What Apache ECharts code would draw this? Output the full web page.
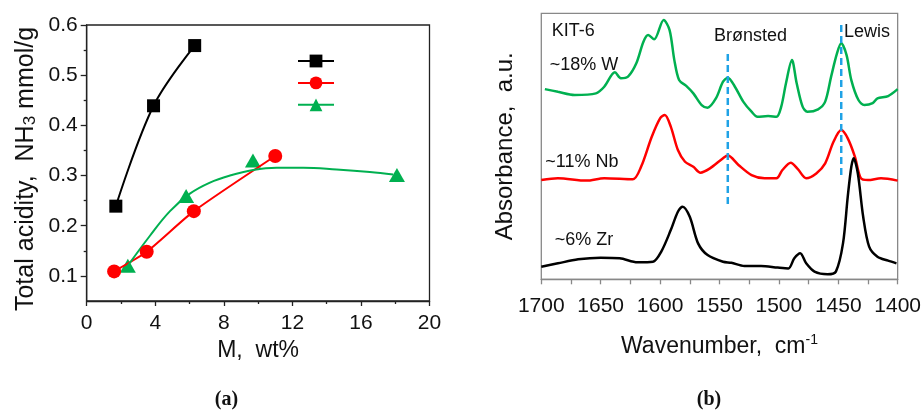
<!DOCTYPE html>
<html><head><meta charset="utf-8">
<script src="https://cdn.jsdelivr.net/npm/echarts@6/dist/echarts.min.js"></script>
<style>html,body{margin:0;padding:0;background:#fff}#c{width:924px;height:410px}</style>
</head><body><div id="c"></div>
<script>
// ---------- Panel (a): total acidity vs metal loading ----------
const aXTicks = [0, 4, 8, 12, 16, 20];
const aYTicks = [0.1, 0.2, 0.3, 0.4, 0.5, 0.6];
const aYMinorTicks = [0.15, 0.25, 0.35, 0.45, 0.55];
const zrX = [1.7, 3.9, 6.3];
const zrY = [0.239, 0.439, 0.559];
const nbX = [1.6, 3.5, 6.25, 11.0];
const nbY = [0.109, 0.148, 0.229, 0.339];
const wX = [2.4, 5.8, 9.7, 18.1];
const wY = [0.12, 0.259, 0.33, 0.301];
const wFitX = [2.33, 3.69, 4.86, 6.02, 7.19, 8.36, 9.71, 11.08, 12.63, 14.58, 16.52, 17.88];
const wFitY = [0.117, 0.18, 0.229, 0.264, 0.286, 0.300, 0.311, 0.3155, 0.3155, 0.312, 0.307, 0.302];
const legendNames = ['Zr', 'Nb', 'W'];

// ---------- Panel (b): pyridine IR spectra ----------
const wSpecX = [1697, 1686, 1672, 1654, 1647, 1638, 1633, 1627, 1620, 1614, 1610, 1605, 1597, 1592, 1588, 1584, 1578, 1572, 1565, 1560, 1553, 1547, 1543, 1537, 1530, 1523, 1518, 1509, 1502, 1498, 1494, 1489, 1485, 1480, 1476, 1467, 1461, 1456, 1451, 1447.5, 1443, 1439, 1433, 1428, 1421, 1417, 1408, 1400];
const wSpecY = [7.15, 7.05, 6.93, 6.99, 7.24, 7.78, 7.56, 7.62, 8.12, 8.93, 9.18, 9.02, 9.75, 9.37, 8.24, 7.49, 7.27, 6.99, 6.55, 6.45, 6.8, 7.43, 7.58, 7.24, 6.68, 6.3, 6.11, 6.14, 6.11, 6.49, 7.37, 8.24, 7.37, 6.49, 6.3, 6.39, 6.68, 7.62, 8.5, 8.87, 8.43, 7.49, 6.74, 6.55, 6.62, 6.8, 6.89, 7.15];
const nbSpecX = [1700, 1686, 1662, 1647, 1623, 1616, 1607, 1600, 1596, 1591, 1585, 1579, 1572, 1566, 1558, 1547, 1543, 1534, 1523, 1512, 1502, 1497, 1490, 1484, 1477, 1468.5, 1461, 1454, 1447.5, 1442, 1436, 1431, 1425, 1414, 1400];
const nbSpecY = [3.73, 3.8, 3.71, 3.8, 3.76, 4.23, 5.36, 6.05, 6.18, 5.74, 4.86, 4.42, 4.23, 4.01, 4.17, 4.55, 4.65, 4.3, 3.92, 3.8, 3.8, 4.11, 4.38, 4.14, 3.8, 3.98, 4.36, 5.17, 5.61, 5.3, 4.61, 3.8, 3.73, 3.8, 3.71];
const zrSpecX = [1700, 1686, 1669, 1650, 1634, 1619, 1606, 1599, 1591, 1585, 1581, 1575, 1568, 1560, 1547, 1540, 1529, 1515, 1501, 1492, 1487, 1482, 1477, 1470, 1459, 1452, 1446, 1442, 1439, 1437, 1433.5, 1429, 1424, 1417, 1408, 1401];
const zrSpecY = [0.47, 0.6, 0.75, 0.81, 0.79, 0.64, 0.66, 1.04, 1.85, 2.54, 2.73, 2.35, 1.35, 0.91, 0.66, 0.62, 0.5, 0.5, 0.44, 0.41, 0.79, 0.98, 0.6, 0.29, 0.19, 0.29, 1.35, 3.11, 4.23, 4.55, 3.98, 2.35, 1.23, 0.85, 0.7, 0.6];
const bronstedX = [1543, 1543];
const bronstedY = [2.83, 8.56];
const lewisX = [1447.5, 1447.5];
const lewisY = [3.92, 9.62];
const noteTexts = ['KIT-6', 'Brønsted', 'Lewis', '~18% W', '~11% Nb', '~6% Zr'];
const noteX = [1691.2, 1554.6, 1445.2, 1692.9, 1696.6, 1688.7];
const noteY = [9.35, 9.15, 9.28, 8.06, 4.39, 1.48];

const zip = (xs, ys) => xs.map((x, i) => [x, ys[i]]);
const FONT = 'Liberation Sans, Arial, sans-serif';
const GREEN = '#00b050', RED = '#ff0000', BLACK = '#000000', BLUE = '#1fa2e6';

const chart = echarts.init(document.getElementById('c'), null, { renderer: 'canvas' });
const option = {
  animation: false,
  backgroundColor: '#ffffff',
  textStyle: { fontFamily: FONT },
  grid: [
    { left: 86.7, right: 494.5, top: 25, bottom: 109, show: true, borderColor: '#222', borderWidth: 1.3, containLabel: false },
    { left: 541.3, right: 26.3, top: 13.3, bottom: 130.7, show: true, borderColor: '#888', borderWidth: 1.3, containLabel: false }
  ],
  legend: {
    orient: 'vertical', left: 292, top: 48, itemWidth: 36, itemHeight: 16, itemGap: 7.5,
    data: legendNames, formatter: () => '', selectedMode: false
  },
  xAxis: [
    {
      gridIndex: 0, type: 'value', min: 0, max: 20, interval: 4,
      axisLine: { show: true, lineStyle: { color: '#222', width: 1.3 } },
      axisTick: { show: true, inside: false, length: 5, lineStyle: { color: '#222', width: 1.3 } },
      minorTick: { show: true, splitNumber: 2, length: 3, lineStyle: { color: '#222', width: 1.3 } },
      splitLine: { show: false },
      axisLabel: { fontSize: 21, color: '#111', margin: 12, fontFamily: FONT,
        customValues: aXTicks, formatter: v => String(v) },
      name: 'M,  wt%', nameLocation: 'middle', nameGap: 38,
      nameTextStyle: { fontSize: 23, color: '#111', fontFamily: FONT }
    },
    {
      gridIndex: 1, type: 'value', min: 1400, max: 1700, interval: 50, inverse: true,
      axisLine: { show: true, lineStyle: { color: '#888', width: 1.3 } },
      axisTick: { show: true, inside: false, length: 5, lineStyle: { color: '#888', width: 1.3 } },
      minorTick: { show: true, splitNumber: 2, length: 5, lineStyle: { color: '#888', width: 1.3 } },
      splitLine: { show: false },
      axisLabel: { fontSize: 21, color: '#111', margin: 16, fontFamily: FONT, formatter: v => String(v) },
      name: '{n|Wavenumber,  cm}{s|-1}', nameLocation: 'middle', nameGap: 54,
      nameTextStyle: { fontSize: 23, color: '#111', fontFamily: FONT,
        rich: { n: { fontSize: 23, fontFamily: FONT, color: '#111', lineHeight: 26 },
                s: { fontSize: 14, fontFamily: FONT, color: '#111', verticalAlign: 'top', lineHeight: 14 } } }
    }
  ],
  yAxis: [
    {
      gridIndex: 0, type: 'value', min: 0.05, max: 0.6,
      axisLine: { show: true, lineStyle: { color: '#222', width: 1.3 } },
      axisTick: { show: true, inside: false, length: 6, customValues: aYTicks, lineStyle: { color: '#222', width: 1.3 } },
      splitLine: { show: false },
      axisLabel: { fontSize: 21, color: '#111', margin: 9, fontFamily: FONT, customValues: aYTicks,
        formatter: v => v.toFixed(1) },
      name: '{n|Total acidity,  NH}{s|3}{n| mmol/g}', nameLocation: 'middle', nameGap: 48, nameRotate: 90,
      nameTextStyle: { fontSize: 25, color: '#111', fontFamily: FONT, padding: [0, 12, 0, 0],
        rich: { n: { fontSize: 25, fontFamily: FONT, color: '#111', lineHeight: 26 },
                s: { fontSize: 17, fontFamily: FONT, color: '#111', verticalAlign: 'bottom', lineHeight: 17 } } }
    },
    {
      gridIndex: 0, type: 'value', min: 0.05, max: 0.6, position: 'left',
      axisLine: { show: false },
      axisTick: { show: true, inside: false, length: 3, customValues: aYMinorTicks, lineStyle: { color: '#222', width: 1.3 } },
      splitLine: { show: false },
      axisLabel: { show: false }
    },
    {
      gridIndex: 1, type: 'value', min: 0, max: 10,
      axisLine: { show: false }, axisTick: { show: false }, axisLabel: { show: false }, splitLine: { show: false },
      name: 'Absorbance,  a.u.', nameLocation: 'middle', nameGap: 24, nameRotate: 90,
      nameTextStyle: { fontSize: 24, color: '#111', fontFamily: FONT }
    }
  ],
  series: [
    { name: 'Zr', type: 'line', xAxisIndex: 0, yAxisIndex: 0, data: zip(zrX, zrY), smooth: 0.35,
      symbol: 'rect', symbolSize: 13, showSymbol: true,
      lineStyle: { color: BLACK, width: 2 }, itemStyle: { color: BLACK, opacity: 1 } },
    { name: 'Nb', type: 'line', xAxisIndex: 0, yAxisIndex: 0, data: zip(nbX, nbY), smooth: 0.2,
      symbol: 'circle', symbolSize: 14, showSymbol: true,
      lineStyle: { color: RED, width: 2 }, itemStyle: { color: RED, opacity: 1 } },
    { name: 'W', type: 'line', xAxisIndex: 0, yAxisIndex: 0, data: zip(wFitX, wFitY), smooth: 0.4,
      symbol: 'triangle', symbolSize: 15, showSymbol: false,
      lineStyle: { color: GREEN, width: 2 }, itemStyle: { color: GREEN, opacity: 1 } },
    { name: 'W', type: 'scatter', xAxisIndex: 0, yAxisIndex: 0, data: zip(wX, wY),
      symbol: 'triangle', symbolSize: [16, 14], itemStyle: { color: GREEN, opacity: 1 } },

    { name: 'spec-W', type: 'line', xAxisIndex: 1, yAxisIndex: 2, data: zip(wSpecX, wSpecY), smooth: 0.3,
      showSymbol: false, lineStyle: { color: GREEN, width: 2.5 } },
    { name: 'spec-Nb', type: 'line', xAxisIndex: 1, yAxisIndex: 2, data: zip(nbSpecX, nbSpecY), smooth: 0.3,
      showSymbol: false, lineStyle: { color: RED, width: 2.5 } },
    { name: 'spec-Zr', type: 'line', xAxisIndex: 1, yAxisIndex: 2, data: zip(zrSpecX, zrSpecY), smooth: 0.3,
      showSymbol: false, lineStyle: { color: BLACK, width: 2.5 } },
    { name: 'Bronsted', type: 'line', xAxisIndex: 1, yAxisIndex: 2, data: zip(bronstedX, bronstedY),
      showSymbol: false, lineStyle: { color: BLUE, width: 2.5, type: [7, 4] }, z: 5 },
    { name: 'Lewis', type: 'line', xAxisIndex: 1, yAxisIndex: 2, data: zip(lewisX, lewisY),
      showSymbol: false, lineStyle: { color: BLUE, width: 2.5, type: [7, 4] }, z: 5 }
  ]
};
chart.setOption(option);

const graphics = noteTexts.map((t, i) => {
  const p = chart.convertToPixel({ gridIndex: 1 }, [noteX[i], noteY[i]]);
  return { type: 'text', x: p[0], y: p[1], z: 10,
    style: { text: t, font: '18px ' + FONT, fill: '#111', textAlign: 'left', textVerticalAlign: 'middle' } };
});
graphics.push({ type: 'text', x: 226.5, y: 400, style: { text: '(a)', font: 'bold 20px Liberation Serif, DejaVu Serif, serif', fill: '#111', textAlign: 'center', textVerticalAlign: 'middle' } });
graphics.push({ type: 'text', x: 709, y: 400, style: { text: '(b)', font: 'bold 20px Liberation Serif, DejaVu Serif, serif', fill: '#111', textAlign: 'center', textVerticalAlign: 'middle' } });
chart.setOption({ graphic: graphics });
</script></body></html>
